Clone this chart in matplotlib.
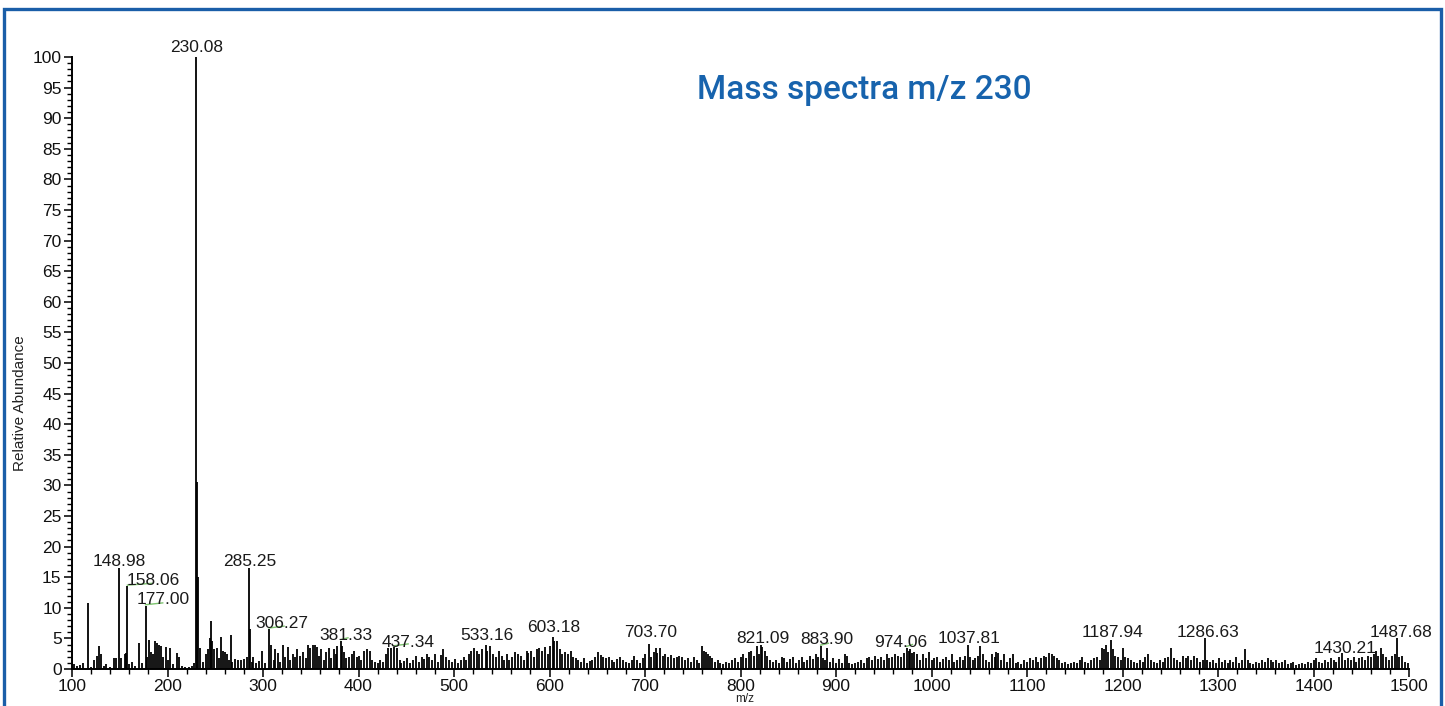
import numpy as np
import matplotlib
matplotlib.use("Agg")
import matplotlib.pyplot as plt
from matplotlib.patches import Rectangle

plt.rcParams['font.family'] = ['Liberation Sans', 'DejaVu Sans']

# peak list (m/z, relative abundance), one line of mz per line of abundance
mz = [
    100, 102, 105, 108, 111, 117, 120, 123, 126, 128, 130, 133,
    136, 140, 144, 146, 148.98, 151, 155, 156.5, 158.06, 160, 163, 166,
    170, 173, 177.00, 179, 181, 183, 185, 187, 189, 191, 193, 195,
    198, 201, 203, 206, 210, 212, 215, 218, 222, 226, 228, 230.08,
    231, 232, 234, 237, 240, 242, 244, 245.2, 247, 249, 252, 254,
    256, 258, 260, 262, 264, 266, 268, 271, 274, 277, 280, 283,
    285.25, 286.3, 288, 290, 293, 296, 299, 302, 306.27, 308, 311, 313,
    316, 318, 321, 323, 326, 328, 331, 334, 336, 339, 342, 345,
    347, 349, 352, 354, 357, 359, 361, 364, 366, 369, 371, 374,
    376, 378, 381.33, 383, 385, 387, 390, 393, 395, 398, 400, 403,
    406, 409, 412, 414, 417, 420, 423, 426, 429, 431, 434, 437.34,
    440, 443, 445, 448, 451, 454, 457, 460, 463, 466, 469, 472,
    474, 477, 480, 483, 486, 489, 492, 495, 498, 501, 504, 507,
    510, 513, 516, 518, 521, 524, 526, 529, 533.16, 535, 538, 541,
    544, 547, 550, 552, 555, 558, 561, 564, 567, 570, 573, 576,
    578, 581, 584, 587, 589, 592, 595, 598, 601, 603.18, 605, 608,
    611, 613, 616, 619, 622, 625, 628, 630, 633, 636, 639, 642,
    645, 648, 651, 654, 656, 659, 662, 665, 668, 671, 674, 677,
    680, 683, 686, 689, 692, 695, 698, 700, 703.70, 706, 709, 711,
    713, 716, 719, 721, 724, 727, 730, 733, 736, 739, 742, 745,
    748, 751, 754, 757, 760, 762, 764, 766, 768, 770, 773, 776,
    779, 782, 785, 788, 791, 794, 797, 800, 803, 806, 809, 811,
    814, 817, 819, 821.09, 823, 826, 828, 831, 834, 837, 840, 843,
    846, 849, 852, 855, 858, 861, 864, 867, 870, 873, 876, 879,
    881, 883.90, 886, 889, 891, 894, 897, 900, 903, 906, 909, 911,
    914, 917, 920, 923, 926, 929, 932, 935, 938, 941, 944, 947,
    950, 953, 956, 959, 962, 965, 968, 971, 974.06, 976, 978, 980,
    982, 985, 988, 991, 994, 997, 1000, 1003, 1006, 1009, 1012, 1015,
    1018, 1021, 1024, 1027, 1030, 1033, 1035, 1037.81, 1040, 1043, 1046, 1049,
    1051, 1054, 1057, 1060, 1063, 1066, 1068, 1070, 1073, 1076, 1079, 1082,
    1085, 1088, 1091, 1094, 1097, 1100, 1103, 1106, 1109, 1112, 1115, 1118,
    1120, 1123, 1126, 1128, 1131, 1134, 1137, 1140, 1143, 1146, 1149, 1152,
    1155, 1158, 1161, 1164, 1167, 1170, 1173, 1176, 1179, 1181, 1183, 1185,
    1187.94, 1190, 1192, 1195, 1198, 1200, 1203, 1206, 1209, 1212, 1215, 1218,
    1221, 1224, 1227, 1230, 1233, 1236, 1239, 1242, 1245, 1248, 1251, 1254,
    1257, 1260, 1263, 1266, 1269, 1272, 1275, 1278, 1281, 1284, 1286.63, 1289,
    1292, 1295, 1298, 1301, 1304, 1307, 1310, 1313, 1316, 1319, 1322, 1325,
    1328, 1331, 1334, 1337, 1340, 1343, 1346, 1349, 1352, 1355, 1358, 1361,
    1364, 1367, 1370, 1373, 1376, 1379, 1382, 1385, 1388, 1391, 1394, 1397,
    1400, 1403, 1406, 1409, 1412, 1415, 1418, 1421, 1424, 1427, 1430.21, 1433,
    1436, 1439, 1442, 1445, 1448, 1451, 1454, 1457, 1460, 1463, 1465, 1468,
    1471, 1473, 1476, 1479, 1482, 1485, 1487.68, 1490, 1493, 1496, 1499,
]
abundance = [
    6.0, 0.8, 0.5, 0.6, 1.0, 10.8, 0.4, 1.5, 2.2, 3.8, 2.5, 0.5,
    0.8, 0.4, 1.8, 1.8, 16.5, 1.8, 2.4, 2.6, 13.5, 0.8, 1.2, 0.5,
    4.3, 1.0, 10.3, 2.0, 4.8, 2.8, 2.5, 4.6, 4.3, 3.9, 3.8, 2.0,
    3.6, 1.5, 3.5, 0.8, 2.6, 2.0, 0.5, 0.4, 0.3, 0.5, 1.0, 100,
    30.5, 15.0, 3.5, 1.2, 2.5, 3.2, 5.0, 7.8, 4.6, 3.2, 3.5, 1.8,
    5.2, 3.0, 2.7, 2.4, 1.5, 5.6, 1.2, 1.6, 1.4, 1.5, 1.6, 2.0,
    16.5, 6.5, 1.2, 2.0, 1.0, 1.3, 3.0, 1.0, 6.5, 4.0, 1.5, 3.2,
    2.6, 1.2, 4.0, 2.0, 3.6, 1.5, 2.4, 2.0, 3.2, 2.2, 2.8, 1.8,
    4.0, 3.5, 4.0, 4.0, 3.6, 2.2, 3.2, 1.5, 2.8, 3.5, 1.8, 3.3,
    2.5, 3.8, 4.6, 3.8, 2.8, 1.8, 2.0, 2.5, 3.0, 2.0, 2.2, 1.5,
    3.0, 3.2, 3.0, 1.5, 1.2, 1.0, 1.4, 1.2, 2.5, 3.5, 3.5, 3.6,
    3.4, 1.5, 1.0, 1.3, 1.8, 1.0, 1.5, 2.2, 1.2, 2.0, 1.6, 2.5,
    2.0, 1.4, 2.5, 1.2, 2.3, 3.2, 2.0, 1.5, 1.2, 1.6, 1.0, 1.4,
    2.0, 1.5, 2.5, 3.0, 3.4, 3.0, 2.5, 3.2, 4.0, 3.0, 3.8, 2.5,
    2.0, 3.0, 2.2, 1.5, 2.5, 1.5, 2.0, 2.8, 2.5, 2.2, 1.5, 3.0,
    2.6, 3.0, 2.0, 3.2, 3.5, 3.0, 3.6, 2.5, 3.8, 5.3, 4.5, 4.5,
    3.3, 2.5, 2.8, 2.5, 3.0, 2.0, 1.8, 1.5, 1.2, 1.8, 1.0, 1.3,
    1.5, 2.0, 2.8, 2.3, 2.0, 1.8, 2.0, 1.5, 1.2, 1.6, 2.0, 1.5,
    1.2, 1.0, 1.4, 2.2, 1.5, 1.0, 1.8, 2.5, 4.1, 2.0, 2.8, 3.4,
    2.6, 3.5, 2.2, 2.4, 2.0, 2.3, 1.8, 2.0, 2.2, 2.0, 1.5, 1.8,
    1.2, 2.0, 1.5, 1.0, 3.8, 2.9, 2.7, 2.5, 2.2, 1.8, 1.2, 1.4,
    1.0, 0.8, 1.2, 1.0, 1.5, 1.8, 1.2, 2.0, 2.5, 1.8, 2.8, 3.0,
    2.2, 3.8, 2.5, 4.0, 3.6, 3.0, 2.2, 1.5, 1.2, 1.5, 1.0, 2.0,
    1.8, 1.2, 1.6, 2.0, 1.0, 1.5, 2.0, 1.2, 1.4, 2.2, 1.6, 2.5,
    2.0, 3.7, 1.8, 1.5, 3.5, 1.2, 1.8, 1.0, 1.6, 1.0, 2.5, 2.2,
    1.0, 0.8, 1.0, 1.2, 1.5, 1.0, 1.8, 2.0, 1.5, 2.2, 1.6, 2.0,
    1.5, 2.4, 1.8, 2.0, 2.5, 2.2, 2.0, 2.6, 3.5, 3.0, 3.2, 2.6,
    2.8, 2.5, 1.5, 2.5, 1.8, 2.8, 1.5, 1.8, 2.0, 1.2, 1.6, 2.0,
    1.5, 2.5, 1.2, 1.5, 2.0, 1.5, 2.2, 3.9, 2.0, 1.5, 1.8, 2.2,
    3.8, 2.5, 1.5, 1.2, 2.5, 2.0, 2.8, 2.6, 1.5, 2.5, 1.2, 1.8,
    2.5, 1.0, 1.2, 0.8, 1.5, 1.2, 1.8, 1.4, 2.0, 1.2, 1.8, 2.2,
    2.0, 2.6, 2.4, 2.2, 1.8, 1.5, 1.0, 1.2, 0.8, 1.0, 1.2, 1.0,
    1.5, 2.0, 1.2, 1.0, 1.4, 1.8, 2.0, 1.5, 3.5, 3.2, 4.0, 2.8,
    4.8, 3.2, 2.2, 2.0, 1.5, 3.5, 2.0, 1.8, 1.5, 1.2, 1.0, 1.5,
    1.2, 2.0, 2.5, 1.5, 1.2, 1.0, 1.5, 1.2, 1.8, 2.0, 3.5, 1.8,
    1.5, 1.2, 2.2, 1.8, 2.2, 1.5, 2.2, 1.8, 1.2, 1.5, 5.0, 1.5,
    1.2, 1.5, 1.0, 1.8, 1.2, 1.5, 1.0, 1.5, 1.2, 2.0, 1.0, 1.5,
    3.2, 1.5, 1.0, 0.8, 1.2, 1.0, 1.5, 1.2, 1.8, 1.5, 1.2, 1.4,
    1.0, 1.2, 1.5, 0.8, 1.0, 1.2, 0.6, 0.8, 1.0, 0.8, 1.2, 1.0,
    1.4, 1.8, 1.2, 1.0, 1.5, 1.2, 1.8, 1.5, 1.2, 2.0, 2.6, 1.5,
    1.8, 1.5, 2.0, 1.2, 1.8, 2.0, 1.5, 2.2, 2.0, 2.5, 3.0, 2.2,
    3.4, 2.5, 2.0, 1.5, 2.2, 2.5, 5.0, 2.0, 2.2, 1.2, 1.0,
]

# annotated peaks: text and label centre (m/z, abundance)
label_text = ['230.08', '148.98', '158.06', '177.00', '285.25', '306.27', '381.33',
              '437.34', '533.16', '603.18', '703.70', '821.09', '883.90', '974.06',
              '1037.81', '1187.94', '1286.63', '1430.21', '1487.68']
label_x = [230.4, 149.8, 184.8, 195.3, 286.4, 320.0, 387.0, 452.0, 534.5, 604.7,
           706.0, 823.5, 890.6, 968.0, 1039.0, 1190.0, 1289.5, 1433.0, 1491.6]
label_y = [101.6, 17.5, 14.5, 11.3, 17.5, 7.5, 5.4, 4.4, 5.4, 6.7, 5.9, 5.0, 4.9,
           4.4, 5.0, 5.9, 6.0, 3.3, 6.0]

# green connector ticks under some labels: peak m/z, peak height, end m/z
link_mz = [158.06, 177.00, 306.27, 381.33, 437.34, 883.90, 974.06]
link_h = [13.5, 10.3, 6.5, 4.6, 3.6, 3.7, 3.5]
link_end = [184.0, 195.0, 322.0, 389.0, 452.0, 892.0, 980.0]

fig = plt.figure(figsize=(14.45, 7.06), dpi=100)
ax = fig.add_axes([72 / 1445, 37 / 706, 1337 / 1445, 612 / 706])

ax.vlines(mz, 0, abundance, color='black', lw=1.3)
for x0, h, x1 in zip(link_mz, link_h, link_end):
    ax.plot([x0, x1], [h + 0.2, h + 0.5], color='#7cc36e', lw=1.0)
for t, x, y in zip(label_text, label_x, label_y):
    ax.text(x, y, t, ha='center', va='center', fontsize=12.5, color='#1a1a1a', clip_on=False)

ax.set_xlim(100, 1500)
ax.set_ylim(0, 100)
ax.set_xticks(np.arange(100, 1501, 100))
ax.set_xticks(np.arange(100, 1501, 20), minor=True)
ax.set_yticks(np.arange(0, 101, 5))
ax.set_yticks(np.arange(0, 101, 1), minor=True)
ax.tick_params(which='major', length=6, width=1.2, labelsize=12.5, pad=1.5, colors='#111111')
ax.tick_params(which='minor', length=3.5, width=1.0)
ax.spines['top'].set_visible(False)
ax.spines['right'].set_visible(False)
ax.spines['left'].set_linewidth(1.4)
ax.spines['bottom'].set_linewidth(1.4)

fig.text(20 / 1445, 1 - 403 / 706, 'Relative Abundance', rotation=90, ha='center', va='center',
         fontsize=11, color='#222222')
fig.text(745 / 1445, 1 - 705 / 706, 'm/z', ha='center', va='bottom', fontsize=8.5, color='#222222')
fig.text(697 / 1445, 1 - 90 / 706, 'Mass spectra m/z 230', ha='left', va='center',
         fontsize=24, color='#1763ad', family=['Roboto', 'DejaVu Sans'], fontweight='medium')

# blue frame round the picture
fig.patches.append(Rectangle((4 / 1445, -0.05), 1437 / 1445, 1.05 - 9 / 706, transform=fig.transFigure,
                             fill=False, edgecolor='#1a5ea8', lw=2.4))

fig.savefig('out.png', dpi=100)
